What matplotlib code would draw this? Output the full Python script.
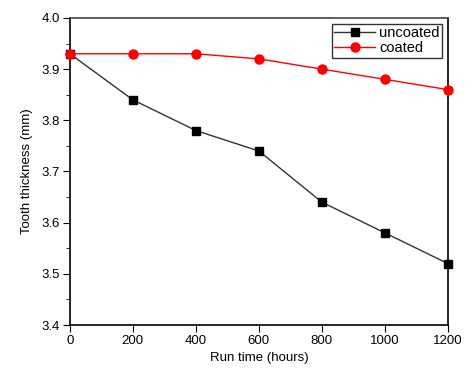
import numpy as np
import matplotlib
matplotlib.use('Agg')
import matplotlib.pyplot as plt
from matplotlib.ticker import MultipleLocator

plt.rcParams['font.family'] = ['Liberation Sans', 'DejaVu Sans']

run_time = [0, 200, 400, 600, 800, 1000, 1200]
uncoated = [3.93, 3.84, 3.78, 3.74, 3.64, 3.58, 3.52]
coated = [3.93, 3.93, 3.93, 3.92, 3.90, 3.88, 3.86]

fig = plt.figure(figsize=(4.72, 3.74), dpi=100)
ax = fig.add_axes([0.148, 0.131, 0.801, 0.821])

ax.plot(run_time, uncoated, color='#333333', linewidth=1, marker='s',
        markersize=5.5, markerfacecolor='black', markeredgecolor='black',
        label='uncoated', clip_on=False, zorder=3)
ax.plot(run_time, coated, color='red', linewidth=1, marker='o',
        markersize=6.5, markerfacecolor='red', markeredgecolor='red',
        label='coated', clip_on=False, zorder=3)

ax.set_xlim(0, 1200)
ax.set_ylim(3.4, 4.0)
ax.xaxis.set_major_locator(MultipleLocator(200))
ax.yaxis.set_major_locator(MultipleLocator(0.1))
ax.yaxis.set_minor_locator(MultipleLocator(0.05))
ax.yaxis.set_major_formatter(matplotlib.ticker.FormatStrFormatter('%.1f'))
ax.tick_params(axis='both', which='major', direction='out', length=5, labelsize=9.5, pad=2)
ax.tick_params(axis='y', which='minor', direction='out', length=3)

for s in ax.spines.values():
    s.set_linewidth(1.2)
ax.spines['top'].set_color('#444444')

ax.set_xlabel('Run time (hours)', fontsize=9.5, labelpad=4)
ax.set_ylabel('Tooth thickness (mm)', fontsize=9.5, labelpad=6)

leg = ax.legend(loc='upper right', fontsize=10.5, frameon=True, fancybox=False,
                edgecolor='black', borderpad=0.15, handlelength=2.8,
                labelspacing=0.1, handletextpad=0.3, borderaxespad=0.4)
leg.get_frame().set_linewidth(1.0)

fig.savefig('out.png', dpi=100)
